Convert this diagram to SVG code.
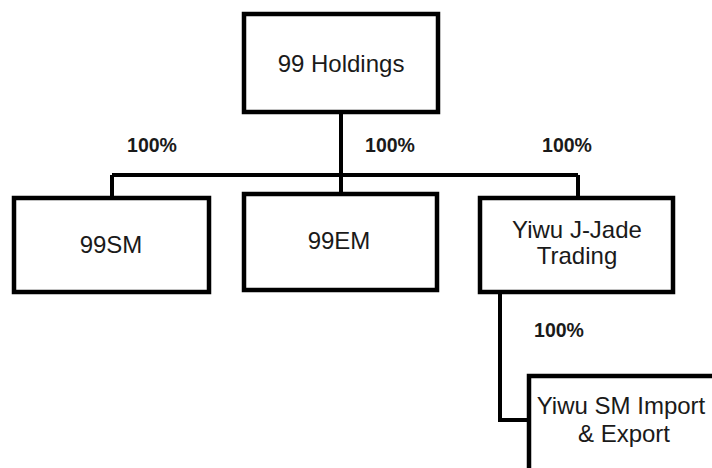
<svg xmlns="http://www.w3.org/2000/svg" width="712" height="468" viewBox="0 0 712 468">
<style>
.box{fill:#fff;stroke:#000;stroke-width:4.5}
.name{font-family:"Liberation Sans",Arial,sans-serif;font-size:24px;fill:#1a1a1a;text-anchor:middle}
.pct{font-family:"Liberation Sans",Arial,sans-serif;font-size:19.5px;font-weight:bold;fill:#1a1a1a;text-anchor:middle}
.line{fill:none;stroke:#000;stroke-width:4}
</style>
<rect width="712" height="468" fill="#fff"/>
<g id="connectors">
<path class="line" d="M341 113 V175 M112 175 H578 M112 175 V196 M341 175 V192 M578 175 V196"/>
<path class="line" d="M500 293 V420 H527"/>
<text class="pct" x="152" y="152">100%</text>
<text class="pct" x="390" y="152">100%</text>
<text class="pct" x="567" y="152">100%</text>
<text class="pct" x="559" y="337">100%</text>
</g>
<g id="holdings">
<rect class="box" x="244" y="14" width="194" height="98"/>
<text class="name" x="341" y="72">99 Holdings</text>
</g>
<g id="sm99">
<rect class="box" x="14" y="198" width="195" height="94"/>
<text class="name" x="111" y="253">99SM</text>
</g>
<g id="em99">
<rect class="box" x="244" y="194" width="193" height="96"/>
<text class="name" x="339" y="249">99EM</text>
</g>
<g id="jjade">
<rect class="box" x="480" y="198" width="193" height="94"/>
<text class="name" x="577" y="238">Yiwu J-Jade</text>
<text class="name" x="577" y="264">Trading</text>
</g>
<g id="smie">
<rect class="box" x="529" y="376" width="200" height="110"/>
<text class="name" x="621" y="414">Yiwu SM Import</text>
<text class="name" x="624" y="442">&amp; Export</text>
</g>
</svg>
